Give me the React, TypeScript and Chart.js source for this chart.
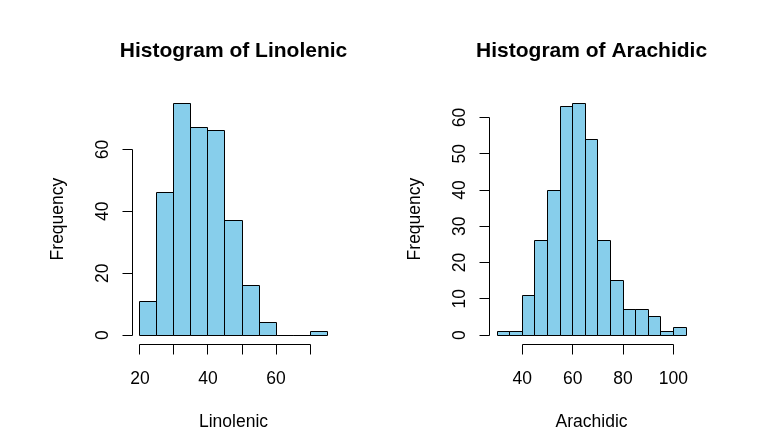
import React, { useEffect, useRef } from "react";
import { Chart, registerables } from "chart.js";

Chart.register(...registerables);

// ---- data ----
const LINOLENIC_BREAKS = [20, 25, 30, 35, 40, 45, 50, 55, 60, 65, 70, 75];
const LINOLENIC_COUNTS = [11, 46, 75, 67, 66, 37, 16, 4, 0, 0, 1];
const LINOLENIC_X_TICKS = [20, 30, 40, 50, 60, 70];
const LINOLENIC_X_LABELS = ["20", "", "40", "", "60", ""];
const LINOLENIC_Y_TICKS = [0, 20, 40, 60];
const LINOLENIC_Y_LABELS = ["0", "20", "40", "60"];

const ARACHIDIC_BREAKS = [30, 35, 40, 45, 50, 55, 60, 65, 70, 75, 80, 85, 90, 95, 100, 105];
const ARACHIDIC_COUNTS = [1, 1, 11, 26, 40, 63, 64, 54, 26, 15, 7, 7, 5, 1, 2];
const ARACHIDIC_X_TICKS = [40, 60, 80, 100];
const ARACHIDIC_X_LABELS = ["40", "60", "80", "100"];
const ARACHIDIC_Y_TICKS = [0, 10, 20, 30, 40, 50, 60];
const ARACHIDIC_Y_LABELS = ["0", "10", "20", "30", "40", "50", "60"];

const FONT = '"Liberation Sans", Arial, Helvetica, sans-serif';

type Spec = {
  title: string;
  xLabel: string;
  breaks: number[];
  counts: number[];
  xTicks: number[];
  xLabels: string[];
  yTicks: number[];
  yLabels: string[];
};

type PanelProps = {
  left: number;
  width: number;
  padding: { left: number; right: number; top: number; bottom: number };
  spec: Spec;
};

const crisp = (v: number) => Math.round(v - 0.5) + 0.5;

function Panel({ left, width, padding, spec }: PanelProps) {
  const ref = useRef<HTMLCanvasElement>(null);

  useEffect(() => {
    const canvas = ref.current!;
    const { breaks, counts } = spec;
    const last = breaks.length - 1;
    const mids = counts.map((_, i) => (breaks[i] + breaks[i + 1]) / 2);
    const span = breaks[last] - breaks[0];
    const xMin = breaks[0] - span * 0.04;
    const xMax = breaks[last] + span * 0.04;
    const maxC = Math.max(...counts);
    const yMin = -maxC * 0.04;
    const yMax = maxC * 1.04;

    const axisPlugin = {
      id: "rAxes",
      afterDatasetsDraw(chart: any) {
        const ctx = chart.ctx as CanvasRenderingContext2D;
        const xs = chart.scales.x;
        const ys = chart.scales.y;
        const area = chart.chartArea;
        ctx.save();
        ctx.strokeStyle = "#000";
        ctx.fillStyle = "#000";
        ctx.lineWidth = 1;

        // histogram rect outlines (R draws each rect border)
        const y0 = crisp(ys.getPixelForValue(0));
        ctx.beginPath();
        counts.forEach((c, i) => {
          const x1 = crisp(xs.getPixelForValue(breaks[i]));
          const x2 = crisp(xs.getPixelForValue(breaks[i + 1]));
          const yt = crisp(ys.getPixelForValue(c));
          ctx.rect(x1, yt, x2 - x1, y0 - yt);
        });
        ctx.stroke();

        // x axis
        const ay = crisp(area.bottom);
        const xt = spec.xTicks;
        ctx.beginPath();
        ctx.moveTo(crisp(xs.getPixelForValue(xt[0])), ay);
        ctx.lineTo(crisp(xs.getPixelForValue(xt[xt.length - 1])), ay);
        for (const v of xt) {
          const px = crisp(xs.getPixelForValue(v));
          ctx.moveTo(px, ay);
          ctx.lineTo(px, ay + 10);
        }
        ctx.stroke();
        ctx.font = `17.5px ${FONT}`;
        ctx.textAlign = "center";
        ctx.textBaseline = "alphabetic";
        xt.forEach((v, i) => {
          if (spec.xLabels[i]) ctx.fillText(spec.xLabels[i], xs.getPixelForValue(v), area.bottom + 39.7);
        });

        // y axis
        const ax = crisp(area.left);
        const yt = spec.yTicks;
        ctx.beginPath();
        ctx.moveTo(ax, crisp(ys.getPixelForValue(yt[0])));
        ctx.lineTo(ax, crisp(ys.getPixelForValue(yt[yt.length - 1])));
        for (const v of yt) {
          const py = crisp(ys.getPixelForValue(v));
          ctx.moveTo(ax, py);
          ctx.lineTo(ax - 10, py);
        }
        ctx.stroke();
        yt.forEach((v, i) => {
          ctx.save();
          ctx.translate(area.left - 24.3, ys.getPixelForValue(v));
          ctx.rotate(-Math.PI / 2);
          ctx.textAlign = "center";
          ctx.fillText(spec.yLabels[i], 0, 0);
          ctx.restore();
        });

        // axis titles
        const cx = (area.left + area.right) / 2;
        const cy = (area.top + area.bottom) / 2;
        ctx.textAlign = "center";
        ctx.fillText(spec.xLabel, cx, area.bottom + 82.4);
        ctx.save();
        ctx.translate(area.left - 69.3, cy);
        ctx.rotate(-Math.PI / 2);
        ctx.fillText("Frequency", 0, 0);
        ctx.restore();

        // main title
        ctx.font = `bold 21px ${FONT}`;
        ctx.fillText(spec.title, cx, area.top - 36.5);
        ctx.restore();
      },
    };

    const chart = new Chart(canvas, {
      type: "bar",
      data: {
        datasets: [
          {
            data: mids.map((m, i) => ({ x: m, y: counts[i] })) as any,
            backgroundColor: "#87CEEB",
            borderWidth: 0,
            inflateAmount: 0,
            barPercentage: 1,
            categoryPercentage: 1,
          },
        ],
      },
      options: {
        animation: false,
        responsive: false,
        maintainAspectRatio: false,
        layout: { padding },
        plugins: { legend: { display: false }, tooltip: { enabled: false }, title: { display: false } },
        scales: {
          x: { type: "linear", min: xMin, max: xMax, display: false, offset: false },
          y: { type: "linear", min: yMin, max: yMax, display: false },
        },
      },
      plugins: [axisPlugin],
    });
    return () => chart.destroy();
  }, []);

  return (
    <canvas
      ref={ref}
      width={width}
      height={444}
      style={{ position: "absolute", left, top: 0, width, height: 444 }}
    />
  );
}

export default function App() {
  return (
    <div style={{ position: "fixed", left: 0, top: 0, width: 763, height: 444, background: "#fff" }}>
      <Panel
        left={0}
        width={381}
        padding={{ left: 132.5, right: 46.5, top: 93.8, bottom: 99.7 }}
        spec={{
          title: "Histogram of Linolenic",
          xLabel: "Linolenic",
          breaks: LINOLENIC_BREAKS,
          counts: LINOLENIC_COUNTS,
          xTicks: LINOLENIC_X_TICKS,
          xLabels: LINOLENIC_X_LABELS,
          yTicks: LINOLENIC_Y_TICKS,
          yLabels: LINOLENIC_Y_LABELS,
        }}
      />
      <Panel
        left={381}
        width={382}
        padding={{ left: 108.6, right: 69.4, top: 93.8, bottom: 99.7 }}
        spec={{
          title: "Histogram of Arachidic",
          xLabel: "Arachidic",
          breaks: ARACHIDIC_BREAKS,
          counts: ARACHIDIC_COUNTS,
          xTicks: ARACHIDIC_X_TICKS,
          xLabels: ARACHIDIC_X_LABELS,
          yTicks: ARACHIDIC_Y_TICKS,
          yLabels: ARACHIDIC_Y_LABELS,
        }}
      />
    </div>
  );
}
